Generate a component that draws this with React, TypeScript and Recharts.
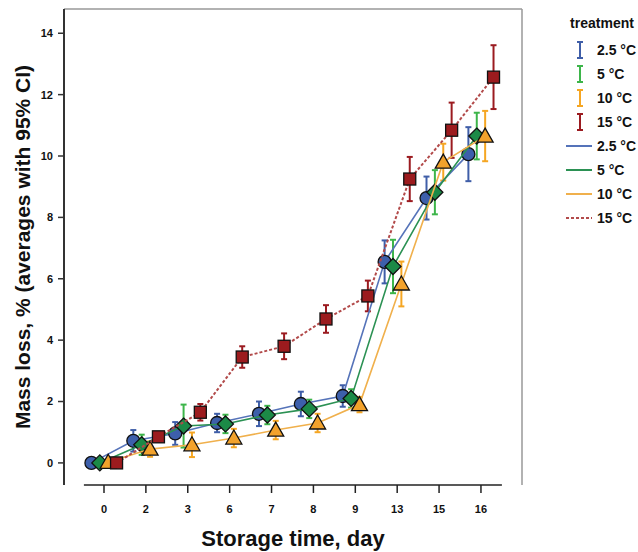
import React from 'react';
import { ScatterChart, Scatter, XAxis, YAxis, ErrorBar, ReferenceLine } from 'recharts';

// storage days (categorical axis, evenly spaced)
const days = ['0', '2', '3', '6', '7', '8', '9', '13', '15', '16'];
const yTicks = [0, 2, 4, 6, 8, 10, 12, 14];

// mean mass loss, %
const loss25 = [0, 0.72, 0.96, 1.3, 1.6, 1.92, 2.18, 6.55, 8.63, 10.06];
const loss5 = [0, 0.59, 1.2, 1.27, 1.56, 1.76, 2.1, 6.4, 8.82, 10.65];
const loss10 = [0.02, 0.45, 0.59, 0.81, 1.07, 1.3, 1.9, 5.83, 9.8, 10.65];
const loss15 = [0, 0.85, 1.65, 3.45, 3.8, 4.69, 5.44, 9.25, 10.84, 12.57];

// 95% CI half widths
const ci25 = [0.08, 0.35, 0.37, 0.3, 0.4, 0.4, 0.35, 0.7, 0.7, 0.88];
const ci5 = [0.08, 0.33, 0.7, 0.3, 0.3, 0.3, 0.3, 0.87, 0.72, 0.76];
const ci10 = [0.06, 0.25, 0.4, 0.3, 0.3, 0.3, 0.25, 0.73, 0.6, 0.82];
const ci15 = [0.06, 0.15, 0.27, 0.35, 0.42, 0.45, 0.5, 0.72, 0.9, 1.04];

const X_MIN = -0.955;
const X_MAX = 9.98;
const Y_MIN = -0.72;
const Y_MAX = 14.79;

const FONT = '"Liberation Sans", Arial, sans-serif';

const series = [
  { name: '2.5 °C', values: loss25, ci: ci25, shift: -0.3, fill: '#3d5fab', line: '#5573b9', err: '#3f5ea8', shape: 'circle', dash: undefined },
  { name: '5 °C', values: loss5, ci: ci5, shift: -0.1, fill: '#1c8a47', line: '#2b9153', err: '#3db54a', shape: 'diamond', dash: undefined },
  { name: '10 °C', values: loss10, ci: ci10, shift: 0.1, fill: '#f2a22c', line: '#f0b04c', err: '#f5a623', shape: 'triangle', dash: undefined },
  { name: '15 °C', values: loss15, ci: ci15, shift: 0.3, fill: '#9c1b1e', line: '#b24a4a', err: '#9b1b20', shape: 'square', dash: '3 2' },
];

const Marker = (props: any) => {
  const { cx, cy, kind, fill } = props;
  if (cx == null || cy == null) return null;
  const common = { fill, stroke: '#111', strokeWidth: 1.3 };
  if (kind === 'circle') return <circle cx={cx} cy={cy} r={6.5} {...common} />;
  if (kind === 'square') return <rect x={cx - 6} y={cy - 6} width={12} height={12} {...common} />;
  if (kind === 'diamond')
    return <polygon points={`${cx},${cy - 8} ${cx + 8},${cy} ${cx},${cy + 8} ${cx - 8},${cy}`} {...common} />;
  return <polygon points={`${cx},${cy - 8} ${cx + 8},${cy + 6} ${cx - 8},${cy + 6}`} {...common} />;
};

const LegendBox = () => (
  <svg width={82} height={230} style={{ position: 'absolute', left: 556, top: 10 }}>
    <text x={46} y={18} textAnchor="middle" fontFamily={FONT} fontWeight="bold" fontSize={14} fill="#111">
      treatment
    </text>
    {series.map((s, i) => {
      const y = 40 + i * 24;
      return (
        <g key={'e' + s.name}>
          <line x1={24} x2={24} y1={y - 8} y2={y + 8} stroke={s.err} strokeWidth={2} />
          <line x1={21} x2={27} y1={y - 8} y2={y - 8} stroke={s.err} strokeWidth={2} />
          <line x1={21} x2={27} y1={y + 8} y2={y + 8} stroke={s.err} strokeWidth={2} />
          <text x={41} y={y + 5} fontFamily={FONT} fontWeight="bold" fontSize={14} fill="#111">
            {s.name}
          </text>
        </g>
      );
    })}
    {series.map((s, i) => {
      const y = 136 + i * 24;
      return (
        <g key={'l' + s.name}>
          <line x1={10} x2={36} y1={y} y2={y} stroke={s.line} strokeWidth={2} strokeDasharray={s.dash} />
          <text x={41} y={y + 5} fontFamily={FONT} fontWeight="bold" fontSize={14} fill="#111">
            {s.name}
          </text>
        </g>
      );
    })}
  </svg>
);

const AxisTitles = () => (
  <svg width={638} height={552} style={{ position: 'absolute', left: 0, top: 0, pointerEvents: 'none' }}>
    <text
      x={0}
      y={0}
      transform="translate(30 247) rotate(-90)"
      textAnchor="middle"
      fontFamily={FONT}
      fontWeight="bold"
      fontSize={21}
      fill="#111"
    >
      Mass loss, % (averages with 95% CI)
    </text>
    <text x={293} y={546} textAnchor="middle" fontFamily={FONT} fontWeight="bold" fontSize={22} fill="#111">
      Storage time, day
    </text>
  </svg>
);

export default function App() {
  return (
    <div style={{ position: 'absolute', left: 0, top: 0, width: 638, height: 552, background: '#fff' }}>
      <ScatterChart width={638} height={552} margin={{ top: 9, right: 116, bottom: 0, left: 0 }}>
        <XAxis
          type="number"
          dataKey="x"
          domain={[X_MIN, X_MAX]}
          ticks={days.map((_, i) => i)}
          tickFormatter={(v: number) => days[v]}
          allowDataOverflow
          axisLine={false}
          tickLine={{ stroke: '#222', strokeWidth: 1.5 }}
          tickSize={8}
          tickMargin={12}
          height={67}
          tick={{ fontFamily: FONT, fontSize: 11, fontWeight: 'bold', fill: '#111' }}
        />
        <YAxis
          type="number"
          dataKey="y"
          domain={[Y_MIN, Y_MAX]}
          ticks={yTicks}
          allowDataOverflow
          width={64}
          axisLine={{ stroke: '#333', strokeWidth: 2 }}
          tickLine={{ stroke: '#333', strokeWidth: 1.5 }}
          tickSize={6}
          tickMargin={5}
          tick={{ fontFamily: FONT, fontSize: 11, fontWeight: 'bold', fill: '#111' }}
        />
        <ReferenceLine y={Y_MAX} stroke="#999" strokeWidth={1.5} />
        <ReferenceLine x={X_MAX} stroke="#999" strokeWidth={1.5} />
        <ReferenceLine segment={[{ x: -0.48, y: Y_MIN }, { x: 9.5, y: Y_MIN }]} stroke="#222" strokeWidth={1.5} />
        {series.map((s) => (
          <Scatter
            key={s.name}
            name={s.name}
            data={s.values.map((v, i) => ({ x: i + s.shift, y: v, err: s.ci[i] }))}
            line={{ stroke: s.line, strokeWidth: s.dash ? 2 : 1.6, strokeDasharray: s.dash }}
            lineType="joint"
            isAnimationActive={false}
            shape={(p: any) => <Marker {...p} kind={s.shape} fill={s.fill} />}
          >
            <ErrorBar dataKey="err" direction="y" width={3} stroke={s.err} strokeWidth={2} />
          </Scatter>
        ))}
      </ScatterChart>
      <AxisTitles />
      <LegendBox />
    </div>
  );
}
